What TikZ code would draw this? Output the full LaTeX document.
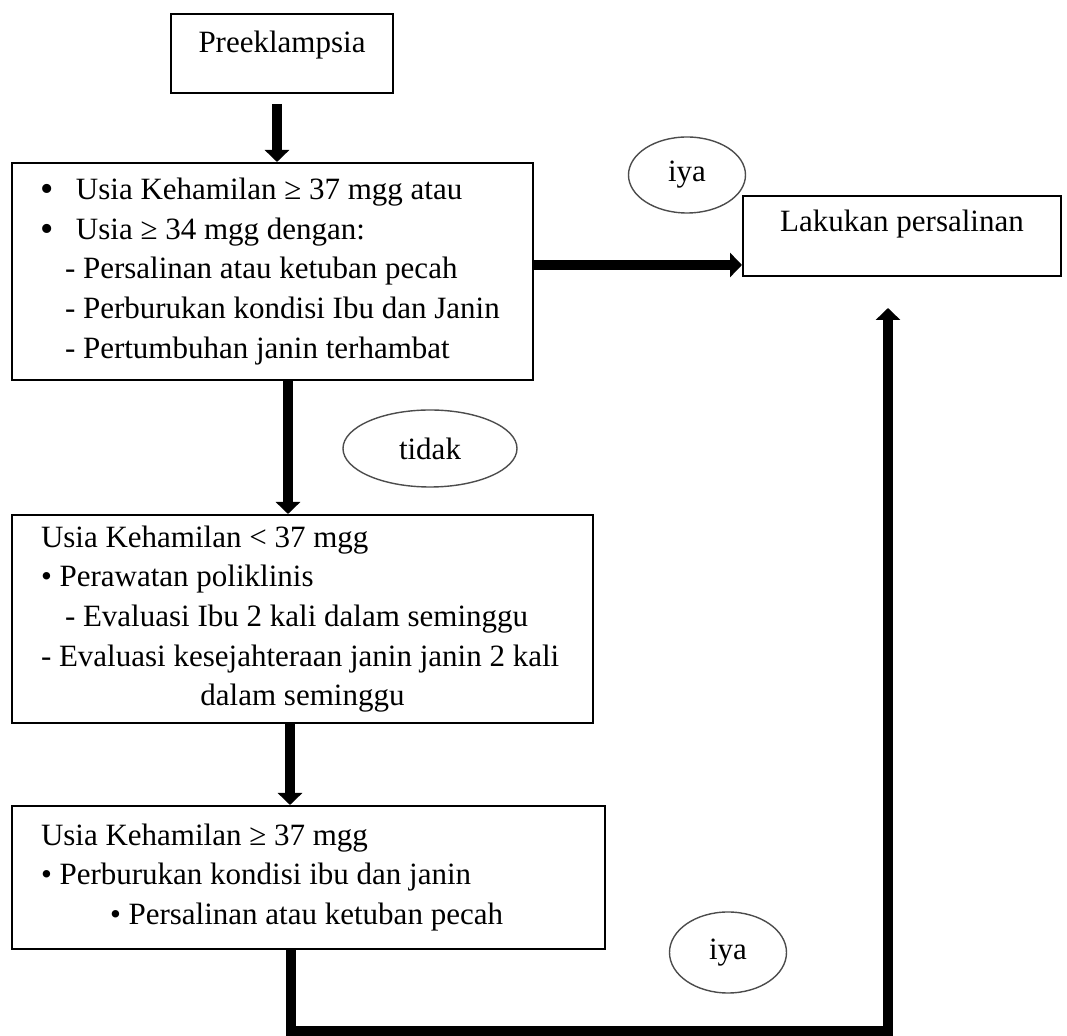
\documentclass[tikz,border=0pt]{standalone}
\usepackage{fontspec}
\setmainfont{Liberation Serif}
\usetikzlibrary{arrows.meta,shapes.geometric}
\newcommand\myfs{\fontsize{15.5}{19.8}\selectfont}
\newcommand\bigbul{\makebox[18pt][l]{\raisebox{-1pt}{\fontsize{19}{19}\selectfont •}}}
\tikzset{
  box/.style={draw, line width=1pt, rectangle, inner sep=0pt, font=\myfs},
  oval/.style={draw=black!70, line width=0.7pt, ellipse, inner sep=0pt, font=\myfs},
  arr/.style={line width=5pt, line join=miter, -{Triangle[width=12pt,length=6pt]}},
}
\begin{document}
\begin{tikzpicture}[x=0.5pt,y=-0.5pt]
\useasboundingbox (0,0) rectangle (1067,1036);

\node[box, minimum width=111pt, text height=19.5pt, text depth=20pt] (pre) at (282,53.5) {Preeklampsia};

\node[box, minimum width=260.5pt, minimum height=108.5pt, text width=260.5pt, align=flush left] (box2) at (272.5,271.5)
{\hspace*{14pt}\bigbul Usia Kehamilan ≥ 37 mgg atau\\
 \hspace*{14pt}\bigbul Usia ≥ 34 mgg dengan:\\
 \hspace*{26.5pt}- Persalinan atau ketuban pecah\\
 \hspace*{26.5pt}- Perburukan kondisi Ibu dan Janin\\
 \hspace*{26.5pt}- Pertumbuhan janin terhambat};

\node[box, minimum width=159pt, text height=18pt, text depth=22pt] (lak) at (902,236) {Lakukan persalinan};

\node[box, minimum width=290.5pt, minimum height=104pt, text width=290.5pt, align=flush left] (box3) at (302.5,619)
{\hspace*{14.5pt}Usia Kehamilan < 37 mgg\\
 \hspace*{14.5pt}• Perawatan poliklinis\\
 \hspace*{26.5pt}- Evaluasi Ibu 2 kali dalam seminggu\\
 \hspace*{14.5pt}- Evaluasi kesejahteraan janin janin 2 kali\\
 \makebox[290.5pt][c]{dalam seminggu}};

\node[box, minimum width=296.5pt, minimum height=71.5pt, text width=296.5pt, align=flush left] (box4) at (308.5,877.5)
{\hspace*{14.5pt}Usia Kehamilan ≥ 37 mgg\\
 \hspace*{14.5pt}• Perburukan kondisi ibu dan janin\\
 \hspace*{49pt}• Persalinan atau ketuban pecah};

\node[oval, minimum width=58.5pt, minimum height=38pt] (iyaA) at (687,175) {iya};
\node[oval, minimum width=87pt, minimum height=38.5pt] (tidak) at (430,448.5) {tidak};
\node[oval, minimum width=58.5pt, minimum height=40.5pt] (iyaB) at (728,952.5) {iya};

\coordinate (loopcorner) at (888,1031);

\draw[arr] ([xshift=-2.5pt,yshift=-5pt]pre.south) -- ([xshift=-2.5pt]pre.south |- box2.north);
\draw[arr] ([xshift=7.75pt]box2.south) -- ([xshift=7.75pt]box2.south |- box3.north);
\draw[arr] ([xshift=-6.25pt]box3.south) -- ([xshift=-6.25pt]box3.south |- box4.north);
\draw[arr] ([yshift=3.25pt]box2.east) -- ([yshift=3.25pt]box2.east -| lak.west);
\draw[arr] ([xshift=-8.75pt]box4.south) |- (loopcorner) -- ([xshift=-7pt,yshift=-15.5pt]lak.south);
\end{tikzpicture}
\end{document}
